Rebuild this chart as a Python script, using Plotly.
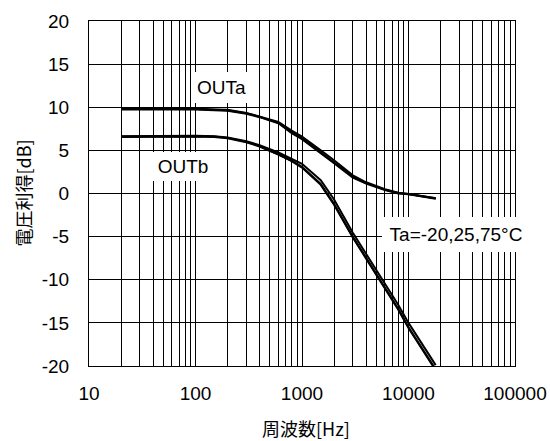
import plotly.graph_objects as go

# ---- data ----
freq = [20, 50, 100, 150, 200, 300, 400, 600, 800, 1000, 1500, 2000,
        3000, 4000, 6000, 8000, 10000, 15000, 18000]

outa_m20 = [9.85, 9.85, 9.85, 9.75, 9.7, 9.35, 8.95, 8.3, 7.3, 6.6, 5.0, 3.85,
            2.1, 1.3, 0.5, 0.1, -0.05, -0.35, -0.55]
outa_25 = [9.8, 9.8, 9.8, 9.7, 9.65, 9.3, 8.9, 8.2, 7.1, 6.4, 4.7, 3.6,
           1.95, 1.2, 0.45, 0.05, -0.05, -0.35, -0.55]
outa_75 = [9.75, 9.75, 9.75, 9.65, 9.6, 9.25, 8.85, 8.15, 7.0, 6.3, 4.6, 3.5,
           1.85, 1.15, 0.4, 0.0, -0.1, -0.4, -0.6]

outb_m20 = [6.65, 6.7, 6.7, 6.65, 6.5, 6.05, 5.6, 4.75, 4.05, 3.45, 1.55, -0.7,
            -4.55, -7.0, -10.4, -12.9, -15.0, -18.4, -19.9]
outb_25 = [6.6, 6.65, 6.65, 6.6, 6.45, 6.0, 5.5, 4.55, 3.8, 3.1, 1.1, -1.2,
           -5.0, -7.45, -10.85, -13.35, -15.5, -18.9, -20.4]
outb_75 = [6.55, 6.6, 6.6, 6.55, 6.4, 5.95, 5.45, 4.5, 3.75, 3.0, 1.0, -1.3,
           -5.1, -7.55, -10.95, -13.45, -15.6, -19.0, -20.5]

x_major = [10, 100, 1000, 10000, 100000]
x_minor = [m * d for d in (10, 100, 1000, 10000) for m in range(2, 10)]
y_ticks = [-20, -15, -10, -5, 0, 5, 10, 15, 20]

labels = ["OUTa", "OUTb", "Ta=-20,25,75°C"]
x_title = "周波数[Hz]"
y_title = "電圧利得[dB]"

FONT = "Liberation Sans, Arial, sans-serif"
CJK = "Noto Sans CJK JP, sans-serif"

W, H = 550, 441
ML, MR, MT, MB = 89, 35, 21, 75
PW, PH = W - ML - MR, H - MT - MB


def px(xp):
    return (xp - ML) / PW


def py(yp):
    return (H - MB - yp) / PH


fig = go.Figure()
for ys in (outa_m20, outa_25, outa_75, outb_m20, outb_25, outb_75):
    fig.add_trace(go.Scatter(x=freq, y=ys, mode="lines",
                             line=dict(color="black", width=2),
                             showlegend=False, hoverinfo="skip"))

fig.update_layout(
    width=W, height=H,
    margin=dict(l=ML, r=MR, t=MT, b=MB, autoexpand=False),
    paper_bgcolor="white", plot_bgcolor="white",
    font=dict(family=FONT, size=19, color="black"),
    showlegend=False,
)
fig.update_xaxes(
    type="log", range=[1, 5], automargin=False,
    tickmode="array", tickvals=x_major, ticktext=[str(v) for v in x_major],
    showgrid=True, gridcolor="black", gridwidth=1,
    minor=dict(tickmode="array", tickvals=x_minor, showgrid=True,
               gridcolor="black", gridwidth=1),
    showline=True, linecolor="black", linewidth=1, mirror=True,
    ticks="", ticklabelstandoff=10, zeroline=False,
    tickfont=dict(family=FONT, size=19),
)
fig.update_yaxes(
    range=[-20, 20], automargin=False,
    tickmode="array", tickvals=y_ticks, ticktext=[str(v) for v in y_ticks],
    showgrid=True, gridcolor="black", gridwidth=1,
    showline=True, linecolor="black", linewidth=1, mirror=True,
    ticks="", ticklabelstandoff=15, zeroline=False,
    tickfont=dict(family=FONT, size=19),
)

common = dict(xref="paper", yref="paper", showarrow=False,
              xanchor="center", yanchor="middle")

# label boxes (white background hides grid behind them)
fig.add_annotation(x=px(221.5), y=py(87.5), text=labels[0], bgcolor="white",
                   width=57, height=31, borderpad=0, borderwidth=0,
                   font=dict(family=FONT, size=19), **common)
fig.add_annotation(x=px(183), y=py(166.3), text=labels[1], bgcolor="white",
                   width=66, height=29, borderpad=0, borderwidth=0,
                   font=dict(family=FONT, size=19), **common)
fig.add_annotation(x=px(456), y=py(234.2), text=labels[2], bgcolor="white",
                   width=148, height=35, borderpad=0, borderwidth=0,
                   font=dict(family=FONT, size=19), **common)

# axis titles
fig.add_annotation(x=px(305.5), y=py(428), text=x_title,
                   font=dict(family=CJK, size=18, color="black"), **common)
fig.add_annotation(x=px(22), y=py(193.5), text=y_title, textangle=-90,
                   font=dict(family=CJK, size=18, color="black"), **common)

fig.write_html("out.html")
